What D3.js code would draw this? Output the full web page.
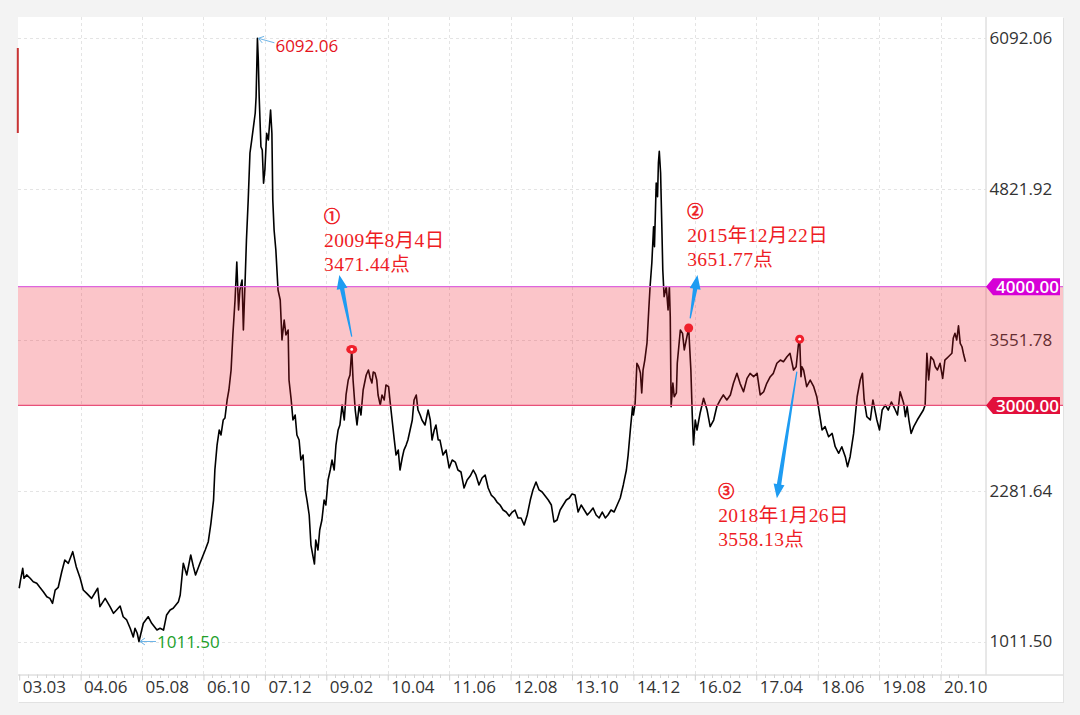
<!DOCTYPE html>
<html><head><meta charset="utf-8">
<script src="https://cdn.jsdelivr.net/npm/d3@7"></script>
<style>
html,body{margin:0;padding:0;background:#f3f3f3;}
svg{display:block;}
</style></head><body>
<svg id="c" width="1080" height="715"></svg>
<script>
// ---- data (x = months counted from the "03.03" label) ----
const monthIdx = [0,0.3,0.8,1.1,1.7,2.5,3.2,4.0,4.7,5.5,6.3,7.0,7.6,8.2,8.9,9.7,10.4,11.2,12.2,13.0,13.9,14.6,15.4,16.5,17.9,18.4,19.6,20.7,21.5,22.2,23.0,23.7,24.5,25.3,26.0,26.4,26.9,27.3,28.3,29.4,30.2,31.4,32.1,32.9,33.6,34.4,35.1,36.3,36.7,37.4,38.2,39.1,39.7,40.2,41.2,42.4,43.1,43.7,44.3,
44.6,45.1,45.6,46.0,46.5,46.9,47.4,47.8,48.3,48.7,49.2,49.6,50.0,50.3,50.8,51.1,51.5,51.8,52.2,52.6,53.0,53.4,53.8,54.0,54.3,54.5,54.7,55.1,55.4,55.7,56.0,56.4,56.8,57.3,57.6,57.8,58.1,58.5,59.0,59.5,59.9,60.4,60.8,61.3,61.5,62.0,62.4,62.9,63.3,63.8,64.2,64.7,65.2,65.6,66.1,66.5,67.0,67.3,67.6,68.1,68.5,69.0,69.5,69.9,70.4,70.9,71.3,71.8,72.2,72.7,73.1,73.6,74.1,74.5,75.0,75.4,75.8,76.1,76.6,77.0,77.5,77.9,78.4,79.1,79.6,80.0,80.4,80.7,81.1,81.5,81.8,82.3,82.7,83.2,83.6,84.2,84.5,85.0,85.5,85.9,86.4,86.8,87.3,87.7,88.2,88.6,89.1,89.6,90.0,90.5,90.9,91.4,91.8,92.5,93.2,93.7,94.1,94.6,95.0,95.5,95.9,96.6,97.3,98.0,98.7,99.4,100.0,100.7,101.4,102.1,102.8,103.5,104.1,104.8,105.5,106.2,106.9,107.6,108.3,108.9,109.6,110.3,111.0,111.7,112.4,113.0,113.7,114.4,115.1,115.8,116.5,117.1,117.8,118.5,119.2,119.9,120.6,121.3,121.9,122.6,123.3,124.0,124.7,125.4,126.0,126.7,127.4,128.1,128.8,129.5,130.1,130.8,131.5,132.2,132.9,133.6,134.2,134.9,135.6,136.3,137.0,137.7,138.4,138.8,139.3,139.8,140.0,140.4,140.8,141.2,141.6,141.9,142.2,142.6,143.1,143.5,143.8,144.2,144.6,144.8,145.2,145.5,145.7,145.9,146.2,146.5,146.7,147.0,147.5,147.9,148.2,148.4,148.6,149.0,149.3,149.8,150.0,150.7,151.2,151.6,152.2,152.6,153.1,153.4,153.7,154.1,154.5,155.2,156.0,156.8,157.5,158.3,159.0,159.8,160.5,161.3,162.1,162.8,163.6,164.3,165.1,165.9,166.6,167.4,168.2,168.9,169.7,170.4,171.2,171.9,172.7,173.5,174.2,175.0,175.7,176.5,177.1,177.6,177.9,178.2,178.4,178.8,179.5,180.3,181.1,181.8,182.4,183.0,183.7,184.5,185.3,186.0,186.8,187.5,188.3,188.8,189.4,190.2,191.0,191.7,192.2,192.6,193.2,194.0,194.6,195.5,196.1,196.7,197.4,198.1,198.8,199.5,200.2,200.8,201.6,202.0,202.4,202.8,203.3,203.9,204.7,205.4,206.1,206.5,206.9,207.3,207.8,208.4,208.8,209.3,209.9,210.5,211.0,211.8,212.6,212.9,213.3,213.7,214.1,214.5,214.9,215.3,215.7];
const closes = [1460,1529,1628,1544,1572,1544,1515,1502,1468,1431,1389,1375,1333,1445,1468,1599,1698,1670,1768,1642,1544,1445,1417,1375,1460,1305,1375,1305,1249,1277,1310,1220,1193,1123,1049,1123,1081,1011.5,1165,1220,1165,1108,1123,1108,1235,1277,1291,1347,1403,1670,1572,1740,1642,1572,1670,1782,1852,2007,2203,
2456,2666,2793,2751,2877,2894,3046,3130,3298,3593,3888,4208,3804,3972,4056,3635,4056,4393,4730,5126,5235,5348,5463,5600,6092.06,5909,5600,5179,5151,4871,4983,5292,5235,5488,5292,4730,4477,4309,3972,3888,3551,3719,3593,3635,3214,3046,2877,2919,2751,2709,2540,2582,2288,2203,2077,1824,1723,1664,1866,1782,1951,2035,2203,2161,2372,2456,2540,2456,2666,2793,2835,3003,2877,3088,3214,3256,3471.44,3214,2961,2835,3003,2919,3130,3256,3298,3231,3189,3281,3273,3214,3088,3003,3088,3046,3172,3158,3046,2877,2709,2582,2624,2456,2557,2624,2666,2709,2793,2877,3046,3088,2961,2919,2877,2835,2961,2877,2709,2793,2835,2709,2709,2582,2624,2473,2540,2523,2456,2439,2304,2372,2405,2456,2414,2330,2389,2414,2304,2245,2220,2186,2161,2119,2102,2068,2102,2119,2052,2052,1993,2077,2203,2288,2355,2288,2271,2237,2203,2161,2018,2035,2119,2161,2203,2220,2254,2245,2102,2161,2119,2077,2102,2136,2077,2052,2102,2052,2077,2119,2102,2161,2220,2330,2456,2582,2793,2989,2919,3020,3355,3326,3273,3105,3298,3382,3526,3804,4000,4199,4505,4337,4873,4758,5042,5140,4957,4477,4140,3916,4000,3804,4000,3747,2989,3189,3073,3105,3355,3635,3607,3467,3579,3651.77,3298,2936,2666,2877,2793,2934,3060,2961,2821,2877,2989,3046,3088,3046,3088,3186,3270,3186,3115,3228,3270,3242,3270,3088,3115,3186,3242,3270,3355,3382,3368,3410,3439,3298,3326,3509,3558.13,3242,3326,3298,3158,3214,3158,3073,2934,2793,2821,2736,2764,2652,2597,2652,2568,2484,2568,2764,3073,3214,3270,3046,2905,2877,3046,2877,2793,2961,3003,2961,3029,2978,2919,3115,3018,2905,2989,2877,2764,2821,2877,2919,2961,3003,3439,3214,3410,3382,3326,3298,3355,3228,3382,3410,3439,3565,3607,3551,3671,3523,3494,3424,3368];

const xTickIdx = [0,14,28,42,56,70,84,98,112,126,140,154,168,182,196,210];
const xTickLabels = ["03.03","04.06","05.08","06.10","07.12","09.02","10.04","11.06","12.08","13.10","14.12","16.02","17.04","18.06","19.08","20.10"];
const yTicks = [1011.50, 2281.64, 3551.78, 4821.92, 6092.06];
const bandLow = 3000, bandHigh = 4000;
const maxIdx = 54.3, maxVal = 6092.06;
const minIdx = 27.3, minVal = 1011.50;
const noteIdx = [75.8, 152.6, 177.9];
const noteVal = [3471.44, 3651.77, 3558.13];
const noteNum = ["①","②","③"];
const noteDate = ["2009年8月4日","2015年12月22日","2018年1月26日"];

// ---- layout ----
const W = 1080, H = 715;
const panel = {l:18, t:17, r:1063, b:702};
const plotR = 985.5, plotB = 674.5;
const svg = d3.select("#c");

const x = d3.scaleLinear().domain([0,210]).range([19.2, 940.5]);
const y = d3.scaleLinear().domain([1011.5, 6092.06]).range([641.5, 38.3]);

svg.append("rect").attr("x",0).attr("y",0).attr("width",W).attr("height",H).attr("fill","#f3f3f3");
svg.append("rect").attr("x",panel.l+1).attr("y",panel.t+1).attr("width",panel.r-panel.l).attr("height",panel.b-panel.t).attr("fill","#e2e2e2");
svg.append("rect").attr("x",panel.l).attr("y",panel.t).attr("width",panel.r-panel.l).attr("height",panel.b-panel.t).attr("fill","#fff");

// grid
const grid = svg.append("g").attr("stroke","#e4e4e4").attr("stroke-dasharray","3,3").attr("stroke-width",1);
grid.selectAll("line.h").data(yTicks).join("line")
  .attr("x1",panel.l).attr("x2",plotR).attr("y1",d=>Math.round(y(d))+0.5).attr("y2",d=>Math.round(y(d))+0.5);
grid.selectAll("line.v").data(xTickIdx.slice(1)).join("line")
  .attr("y1",panel.t).attr("y2",plotB).attr("x1",d=>Math.round(x(d))+0.5).attr("x2",d=>Math.round(x(d))+0.5);

// price line
const series = d3.zip(monthIdx, closes);
const line = d3.line().x(d=>x(d[0])).y(d=>y(d[1]));
svg.append("path").datum(series).attr("d",line).attr("fill","none").attr("stroke","#000").attr("stroke-width",1.6).attr("stroke-linejoin","round");

// axes
const font = "'Open Sans', 'Noto Sans', sans-serif";
const xAxis = d3.axisBottom(x).tickValues(xTickIdx).tickFormat((d,i)=>xTickLabels[i]).tickSize(6).tickSizeOuter(0);
const gx = svg.append("g").attr("transform",`translate(0,${plotB})`).call(xAxis);
gx.select(".domain").attr("d",`M${panel.l},0.5H${panel.r}`).attr("stroke","#d0d0d0");
gx.selectAll(".tick line").attr("stroke","#cfcfcf");
gx.selectAll(".tick text").attr("text-anchor","start").attr("x",3).attr("y",6).attr("dy","0.71em")
  .attr("fill","#333").style("font-family",font).style("font-size","17px");
const minor = d3.range(0, 216, 2).filter(m=>m%14!==0);
svg.append("g").selectAll("line").data(minor).join("line")
  .attr("x1",d=>Math.round(x(d))+0.5).attr("x2",d=>Math.round(x(d))+0.5)
  .attr("y1",plotB).attr("y2",plotB+3.5).attr("stroke","#d4d4d4");

const yAxis = d3.axisRight(y).tickValues(yTicks).tickFormat(d3.format(".2f")).tickSize(0).tickPadding(4);
const gy = svg.append("g").attr("transform",`translate(${plotR},0)`).call(yAxis);
gy.select(".domain").attr("d",`M0.5,${panel.t}V${plotB}`).attr("stroke","#d0d0d0");
gy.selectAll(".tick text").attr("fill","#333").style("font-family",font).style("font-size","17px");

// band
svg.append("rect").attr("x",panel.l).attr("width",panel.r-panel.l)
  .attr("y",y(bandHigh)).attr("height",y(bandLow)-y(bandHigh))
  .attr("fill","rgba(240,30,45,0.26)");
svg.append("line").attr("x1",panel.l).attr("x2",panel.r).attr("y1",y(bandHigh)).attr("y2",y(bandHigh)).attr("stroke","#dd66dd").attr("stroke-width",1.2);
svg.append("line").attr("x1",panel.l).attr("x2",panel.r).attr("y1",y(bandLow)).attr("y2",y(bandLow)).attr("stroke","#e8507a").attr("stroke-width",1.2);

// tags
svg.append("clipPath").attr("id","tagclip").append("rect").attr("x",980).attr("y",0).attr("width",80).attr("height",H);
[[bandHigh,"#d600d6"],[bandLow,"#e2103c"]].forEach(([v,c])=>{
  const yc = y(v), h = 8.5, x0 = 986, x1 = 993, x2 = 1060;
  svg.append("path").attr("d",`M${x0},${yc}L${x1},${yc-h}H${x2}V${yc+h}H${x1}Z`).attr("fill",c);
  svg.append("text").attr("x",996).attr("y",yc).attr("dy","0.36em").attr("clip-path","url(#tagclip)")
    .attr("fill","#fff").style("font-family",font).style("font-size","17px").style("font-weight","600")
    .text(d3.format(".2f")(v));
});

// left red marker bar
svg.append("rect").attr("x",16.8).attr("y",48).attr("width",2).attr("height",85).attr("fill","#c83434");

// max / min labels
function leader(x1,y1,x2,y2){
  const g = svg.append("g").attr("stroke","#6eb4e6").attr("fill","none").attr("stroke-width",1);
  g.append("line").attr("x1",x1).attr("y1",y1).attr("x2",x2).attr("y2",y2);
  const a = Math.atan2(y2-y1,x2-x1), L=6;
  [0.6,-0.6].forEach(s=>g.append("line").attr("x1",x1).attr("y1",y1)
    .attr("x2",x1+L*Math.cos(a+s)).attr("y2",y1+L*Math.sin(a+s)));
}
const mx = x(maxIdx), my = y(maxVal);
leader(mx+1, my, mx+17, my+4.5);
svg.append("text").attr("x",mx+18).attr("y",my+13.5).attr("fill","#e5141c").style("font-family",font).style("font-size","17px").text(d3.format(".2f")(maxVal));
const nx = x(minIdx), ny = y(minVal);
leader(nx+1, ny, nx+17, ny);
svg.append("text").attr("x",nx+18).attr("y",ny+6).attr("fill","#22a02a").style("font-family",font).style("font-size","17px").text(d3.format(".2f")(minVal));

// annotation arrows
function arrow(tx,ty,hx,hy){
  const dx=hx-tx, dy=hy-ty, len=Math.hypot(dx,dy), ux=dx/len, uy=dy/len, px=-uy, py=ux;
  const headL=14, headW=5.5, w0=0.6, w1=2.2;
  const bx=hx-ux*headL, by=hy-uy*headL;
  const pts=[[tx+px*w0,ty+py*w0],[bx+px*w1,by+py*w1],[bx+px*headW,by+py*headW],[hx,hy],
             [bx-px*headW,by-py*headW],[bx-px*w1,by-py*w1],[tx-px*w0,ty-py*w0]];
  svg.append("path").attr("d","M"+pts.map(p=>p.join(",")).join("L")+"Z").attr("fill","#1e9cf2");
}
const arrowOff = [[0,-12.7,-12.4,-74.4],[1.5,-9.7,8.8,-53],[-2.8,32.5,-22.8,159]];
const textOff = [[-27.7,-128],[-1.5,-112],[-81.5,157]];
const serif = "'Liberation Serif','DejaVu Serif','Noto Sans CJK SC',serif";
noteIdx.forEach((ix,i)=>{
  const px = x(ix), py = y(noteVal[i]);
  const ao = arrowOff[i];
  arrow(px+ao[0],py+ao[1],px+ao[2],py+ao[3]);
  const g = svg.append("g").attr("fill","#ee1c25").style("font-family",serif).style("font-size","19.5px").style("letter-spacing","0.4px");
  const tx = px+textOff[i][0], ty = py+textOff[i][1];
  g.append("text").attr("x",tx).attr("y",ty+1).style("font-family","'Noto Sans CJK SC',sans-serif").style("font-size","16px")
    .attr("stroke","#ee1c25").attr("stroke-width",0.7).text(noteNum[i]);
  g.append("text").attr("x",tx).attr("y",ty+26).text(noteDate[i]);
  g.append("text").attr("x",tx).attr("y",ty+50).text(d3.format(".2f")(noteVal[i])+"点");
});
// markers
noteIdx.forEach((ix,i)=>{
  const px = x(ix), py = y(noteVal[i]);
  svg.append("ellipse").attr("cx",px).attr("cy",py).attr("rx",i===0?5.5:4.5).attr("ry",4.5).attr("fill","#f0202c");
  if(i!==1) svg.append("circle").attr("cx",px).attr("cy",py).attr("r",1.4).attr("fill","#fff");
});
</script>
</body></html>
